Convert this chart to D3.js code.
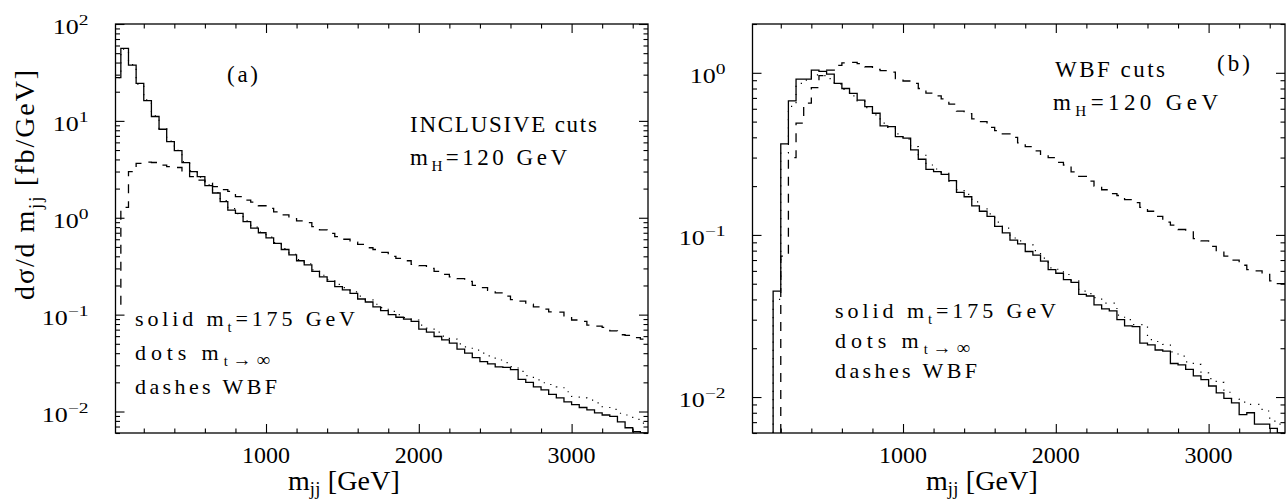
<!DOCTYPE html>
<html><head><meta charset="utf-8">
<script src="https://cdn.jsdelivr.net/npm/d3@7"></script>
<style>body{margin:0;background:#fff}svg{display:block}</style>
</head><body>
<svg id="c" width="1286" height="501"></svg>
<script>
// ---------- data ----------
const BIN_WIDTH = 50;
const binStarts = d3.range(0, 3500, BIN_WIDTH);   // 70 bins, 0..3500 GeV

// panel (a): INCLUSIVE cuts
const solidA = [28, 56, 37.7, 24.4, 16.2, 11.1, 8.2, 6.1, 4.93, 3.70,
  2.99, 2.66, 2.15, 1.80, 1.47, 1.20, 1.11, 0.91, 0.78, 0.70,
  0.62, 0.545, 0.47, 0.413, 0.36, 0.326, 0.28, 0.245, 0.22, 0.195,
  0.18, 0.166, 0.145, 0.135, 0.12, 0.11, 0.10, 0.094, 0.09, 0.085,
  0.071, 0.066, 0.0595, 0.055, 0.0508, 0.044, 0.040, 0.036, 0.0327, 0.031,
  0.0289, 0.0285, 0.027, 0.0215, 0.020, 0.018, 0.0167, 0.015, 0.0138, 0.0126,
  0.0118, 0.011, 0.0104, 0.0097, 0.0092, 0.0089, 0.0078, 0.0068, 0.0062, 0.006];
const dottedA = [28, 55, 38, 24, 16.5, 11.3, 8.3, 6.2, 4.95, 3.8,
  3.05, 2.62, 2.18, 1.82, 1.5, 1.24, 1.1, 0.93, 0.8, 0.71,
  0.63, 0.555, 0.48, 0.42, 0.37, 0.335, 0.29, 0.255, 0.23, 0.205,
  0.19, 0.172, 0.155, 0.142, 0.128, 0.118, 0.108, 0.1, 0.093, 0.088,
  0.078, 0.0725, 0.066, 0.06, 0.056, 0.05, 0.0465, 0.043, 0.04, 0.0375,
  0.034, 0.032, 0.029, 0.026, 0.0235, 0.0212, 0.0198, 0.019, 0.018, 0.016,
  0.0143, 0.0138, 0.0131, 0.0123, 0.0112, 0.0105, 0.0096, 0.0092, 0.0083, 0.0076];
const dashedA = [0.12, 1.28, 3.0, 3.65, 3.75, 3.72, 3.5, 3.37, 3.3, 2.95,
  2.66, 2.45, 2.28, 2.1, 1.95, 1.87, 1.65, 1.52, 1.45, 1.33,
  1.25, 1.15, 1.07, 0.98, 0.93, 0.89, 0.81, 0.75, 0.69, 0.64,
  0.6, 0.56, 0.53, 0.49, 0.47, 0.44, 0.4, 0.38, 0.36, 0.33,
  0.32, 0.3, 0.28, 0.26, 0.245, 0.235, 0.22, 0.2, 0.19, 0.178,
  0.168, 0.155, 0.143, 0.138, 0.128, 0.12, 0.114, 0.107, 0.106, 0.097,
  0.088, 0.085, 0.078, 0.076, 0.074, 0.068, 0.062, 0.061, 0.058, 0.056];

// panel (b): WBF cuts
const solidB = [null, null, null, 0.045, 0.364, 0.672, 0.915, 0.915, 1.04, 1.02,
  0.98, 0.86, 0.80, 0.747, 0.679, 0.618, 0.563, 0.47, 0.465, 0.404,
  0.395, 0.335, 0.293, 0.254, 0.246, 0.236, 0.216, 0.183, 0.172, 0.151,
  0.14, 0.13, 0.113, 0.103, 0.093, 0.088, 0.079, 0.075, 0.069, 0.061,
  0.058, 0.053, 0.051, 0.043, 0.042, 0.037, 0.035, 0.034, 0.030, 0.0275,
  0.0272, 0.0215, 0.021, 0.0195, 0.0192, 0.0161, 0.0158, 0.0148, 0.0135, 0.0128,
  0.0117, 0.0106, 0.0098, 0.0092, 0.0078, 0.0080, 0.0068, 0.0068, 0.0064, 0.0059];
const dottedB = [null, null, null, 0.04, 0.32, 0.62, 0.86, 0.90, 0.97, 0.96,
  0.92, 0.85, 0.79, 0.72, 0.67, 0.61, 0.55, 0.49, 0.46, 0.42,
  0.39, 0.35, 0.31, 0.27, 0.255, 0.24, 0.215, 0.19, 0.178, 0.16,
  0.145, 0.135, 0.12, 0.11, 0.0957, 0.092, 0.087, 0.08, 0.072, 0.0626,
  0.0614, 0.057, 0.052, 0.045, 0.0435, 0.041, 0.038, 0.038, 0.032, 0.03,
  0.028, 0.028, 0.0226, 0.022, 0.0211, 0.019, 0.0179, 0.0165, 0.0159, 0.0141,
  0.013, 0.0123, 0.0107, 0.0097, 0.0093, 0.009, 0.009, 0.0082, 0.0071, 0.0068];
const dashedB = [null, null, null, null, 0.074, 0.30, 0.49, 0.65, 0.81, 0.96,
  1.04, 1.11, 1.15, 1.16, 1.14, 1.09, 1.05, 1.03, 1.01, 0.92,
  0.89, 0.86, 0.80, 0.75, 0.72, 0.69, 0.64, 0.58, 0.56, 0.52,
  0.50, 0.46, 0.44, 0.42, 0.40, 0.37, 0.35, 0.33, 0.31, 0.30,
  0.28, 0.27, 0.245, 0.23, 0.215, 0.20, 0.19, 0.18, 0.175, 0.165,
  0.158, 0.148, 0.14, 0.13, 0.12, 0.115, 0.108, 0.107, 0.095, 0.092,
  0.085, 0.079, 0.074, 0.07, 0.065, 0.061, 0.06, 0.057, 0.052, 0.05];

const xMajorTicks = [1000, 2000, 3000];
const xTickLabels = ['1000', '2000', '3000'];
const xMinorTicks = [200, 400, 600, 800, 1200, 1400, 1600, 1800, 2200, 2400, 2600, 2800, 3200, 3400];
const decadesA = [-2, -1, 0, 1, 2];
const decadesB = [-2, -1, 0];

// ---------- drawing ----------
const FONT = "'Liberation Serif','Times New Roman',Times,serif";
const svg = d3.select('#c');

// text with sub/superscripts; optional target width fitted via letter-spacing
function rich(parent, x, y, parts, size, width, anchor, subShift) {
  const t = parent.append('text').attr('x', x).attr('y', y)
    .attr('font-family', FONT).attr('font-size', size)
    .attr('text-anchor', anchor || 'start').attr('fill', '#000');
  let shift = 0, n = 0;
  const sd = subShift != null ? subShift : size * 0.28;
  parts.forEach(p => {
    const target = p.sub ? sd : p.sup ? -size * 0.42 : 0;
    const ts = t.append('tspan').text(p.t).attr('dy', target - shift);
    if (p.sub || p.sup) ts.attr('font-size', p.size || size * 0.66);
    shift = target;
    n += [...p.t].length;
  });
  if (width) {
    const w = t.node().getComputedTextLength();
    const ls = (width - w) / Math.max(1, n - 1);
    t.attr('letter-spacing', ls.toFixed(2));
  }
  return t;
}

function panel(cfg) {
  const { id, left, right, top, bottom, yMax, decades, series } = cfg;
  const x = d3.scaleLinear().domain([15, 3500]).range([left, right]);
  const y = d3.scaleLog().domain([0.006, yMax]).range([bottom, top]).clamp(true);
  const g = svg.append('g');

  svg.append('clipPath').attr('id', id).append('rect')
    .attr('x', left).attr('y', top).attr('width', right - left).attr('height', bottom - top);

  // histograms
  const line = d3.line().x(d => x(d[0])).y(d => y(d[1])).curve(d3.curveStepAfter);
  series.forEach(s => {
    const first = s.values.findIndex(v => v != null);
    const pts = [[binStarts[first], y.domain()[0]]];
    s.values.forEach((v, i) => { if (v != null) pts.push([binStarts[i], v]); });
    pts.push([binStarts[binStarts.length - 1] + BIN_WIDTH, s.values[s.values.length - 1]]);
    g.append('path').attr('d', line(pts)).attr('clip-path', `url(#${id})`)
      .attr('fill', 'none').attr('stroke', '#000')
      .attr('stroke-width', s.width).attr('stroke-dasharray', s.dash || null);
  });

  // ticks (inward on all sides)
  const yMajor = decades.map(e => Math.pow(10, e));
  const yMinor = [];
  d3.range(-3, 3).forEach(e => { for (let k = 2; k <= 9; k++) {
    const v = k * Math.pow(10, e);
    if (v >= y.domain()[0] && v <= yMax) yMinor.push(v);
  }});
  const mk = (axis, tr) => {
    const a = g.append('g').attr('transform', tr).call(axis);
    a.select('.domain').remove();
    a.selectAll('line').attr('stroke', '#000').attr('stroke-width', 1.1);
    a.selectAll('text').remove();
  };
  const tb = 9, ts = 4.5;
  mk(d3.axisBottom(x).tickValues(xMajorTicks).tickSize(-tb), `translate(0,${bottom})`);
  mk(d3.axisBottom(x).tickValues(xMinorTicks).tickSize(-ts), `translate(0,${bottom})`);
  mk(d3.axisTop(x).tickValues(xMajorTicks).tickSize(-tb), `translate(0,${top})`);
  mk(d3.axisTop(x).tickValues(xMinorTicks).tickSize(-ts), `translate(0,${top})`);
  mk(d3.axisLeft(y).tickValues(yMajor).tickSize(-tb), `translate(${left},0)`);
  mk(d3.axisLeft(y).tickValues(yMinor).tickSize(-ts), `translate(${left},0)`);
  mk(d3.axisRight(y).tickValues(yMajor).tickSize(-tb), `translate(${right},0)`);
  mk(d3.axisRight(y).tickValues(yMinor).tickSize(-ts), `translate(${right},0)`);

  // frame
  g.append('rect').attr('x', left).attr('y', top).attr('width', right - left)
    .attr('height', bottom - top).attr('fill', 'none').attr('stroke', '#000').attr('stroke-width', 1.3);

  // x tick labels
  xMajorTicks.forEach((v, i) => {
    g.append('text').attr('x', x(v)).attr('y', bottom + 30).attr('text-anchor', 'middle')
      .attr('font-family', FONT).attr('font-size', 24).attr('fill', '#000').text(xTickLabels[i]);
  });
  // y tick labels: 10^e
  decades.forEach(e => {
    const lg = g.append('g').attr('transform', `translate(${left - 27},${y(Math.pow(10, e)) + 10}) scale(1.3,1)`);
    const t = lg.append('text').attr('text-anchor', 'end').attr('font-family', FONT)
      .attr('font-size', 20).attr('fill', '#000');
    t.append('tspan').text('10');
    t.append('tspan').attr('dy', -9).attr('font-size', 15).text(e < 0 ? '\u2212' + (-e) : String(e));
  });

  // x axis title
  rich(g, cfg.xTitleX, 490, [{ t: 'm' }, { t: 'jj', sub: true }, { t: ' [GeV]' }], 28, 112, 'middle', 4.5);

  cfg.texts.forEach(tx => rich(g, tx.x, tx.y, tx.parts, tx.size, tx.w, 'start'));
  return g;
}

panel({
  id: 'clipA', left: 115.5, right: 648, top: 24, bottom: 433, yMax: 100, decades: decadesA,
  xTitleX: 344,
  series: [
    { values: dottedA, width: 1.2, dash: '1.2,7' },
    { values: dashedA, width: 1.3, dash: '9,8' },
    { values: solidA, width: 1.3 }
  ],
  texts: [
    { x: 227, y: 82, size: 23, w: 31, parts: [{ t: '(a)' }] },
    { x: 410, y: 131.5, size: 23, w: 187, parts: [{ t: 'INCLUSIVE cuts' }] },
    { x: 410, y: 165, size: 23, w: 157, parts: [{ t: 'm' }, { t: 'H', sub: true }, { t: '=120 GeV' }] },
    { x: 135, y: 326, size: 22, w: 220, parts: [{ t: 'solid m' }, { t: 't', sub: true }, { t: '=175 GeV' }] },
    { x: 135, y: 360, size: 22, w: 135, parts: [{ t: 'dots m' }, { t: 't', sub: true }, { t: '\u2192\u221e', sub: true, size: 19 }] },
    { x: 135, y: 394, size: 22, w: 142, parts: [{ t: 'dashes WBF' }] }
  ]
});

panel({
  id: 'clipB', left: 752.5, right: 1285, top: 24, bottom: 433, yMax: 2, decades: decadesB,
  xTitleX: 982,
  series: [
    { values: dottedB, width: 1.2, dash: '1.2,7' },
    { values: dashedB, width: 1.3, dash: '9,8' },
    { values: solidB, width: 1.3 }
  ],
  texts: [
    { x: 1217, y: 71, size: 23, w: 33, parts: [{ t: '(b)' }] },
    { x: 1055, y: 76.5, size: 23, w: 110, parts: [{ t: 'WBF cuts' }] },
    { x: 1053, y: 110, size: 23, w: 165, parts: [{ t: 'm' }, { t: 'H', sub: true }, { t: '=120 GeV' }] },
    { x: 835, y: 318, size: 22, w: 221, parts: [{ t: 'solid m' }, { t: 't', sub: true }, { t: '=175 GeV' }] },
    { x: 835, y: 348, size: 22, w: 135, parts: [{ t: 'dots m' }, { t: 't', sub: true }, { t: '\u2192\u221e', sub: true, size: 19 }] },
    { x: 835, y: 378, size: 22, w: 142, parts: [{ t: 'dashes WBF' }] }
  ]
});

// y axis title (panel a)
const yt = svg.append('g').attr('transform', 'translate(34,184) rotate(-90)');
rich(yt, 0, 0, [{ t: 'd\u03c3/d m' }, { t: 'jj', sub: true }, { t: '  [fb/GeV]' }], 28, 232, 'middle');
</script>
</body></html>
